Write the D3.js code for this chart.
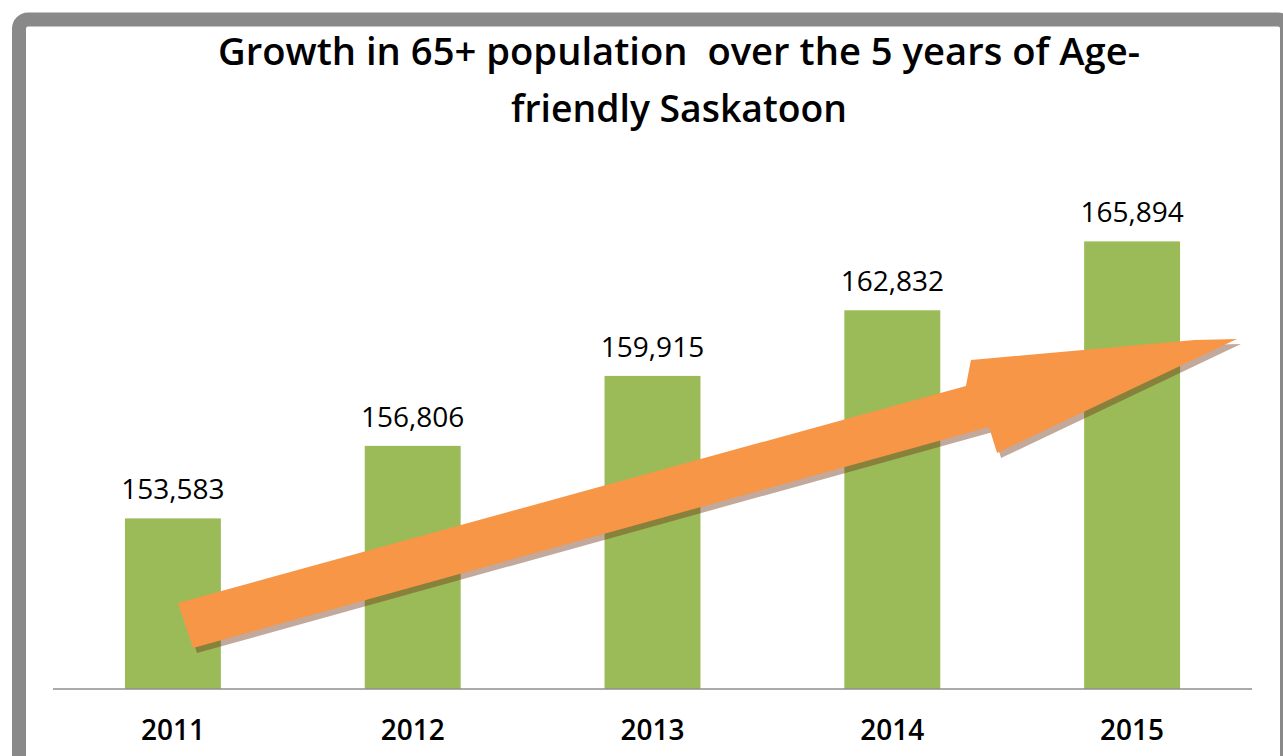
<!DOCTYPE html>
<html>
<head>
<meta charset="utf-8">
<script src="https://cdn.jsdelivr.net/npm/d3@7"></script>
<style>
html,body{margin:0;padding:0;background:#fff;overflow:hidden;}
svg{display:block;}
</style>
</head>
<body>
<svg id="chart" width="1283" height="756"></svg>
<script>
const titleLines = ["Growth in 65+ population  over the 5 years of Age-", "friendly Saskatoon"];
const categories = ["2011", "2012", "2013", "2014", "2015"];
const values = [153583, 156806, 159915, 162832, 165894];
const yDomain = [146000, 168000];
// decorative trend arrow, in (category index, value) units
const arrowIdx = [0.021, 3.307, 3.328, 4.262, 4.437, 3.437, 3.403, 0.084];
const arrowVal = [149822, 159467, 160622, 161511, 161556, 156489, 157644, 147822];

const svg = d3.select("#chart");
const W = 1283, H = 756;
const plot = {left: 53, right: 1252, top: 194, bottom: 689};

// frame
svg.append("rect")
  .attr("x", 19).attr("y", 19.5)
  .attr("width", 1268).attr("height", 800)
  .attr("rx", 9).attr("ry", 9)
  .attr("fill", "#fff")
  .attr("stroke", "#898989")
  .attr("stroke-width", 14);

// title
const title = svg.append("g");
titleLines.forEach((t, i) => {
  title.append("text")
    .attr("x", 679).attr("y", 65 + i * 57)
    .attr("text-anchor", "middle")
    .attr("font-family", "'Open Sans', sans-serif")
    .attr("font-weight", 600)
    .attr("font-size", 37)
    .attr("fill", "#000")
    .attr("textLength", i === 0 ? 922 : 336)
    .attr("lengthAdjust", "spacingAndGlyphs")
    .attr("xml:space", "preserve")
    .text(t);
});

const x = d3.scaleBand().domain(categories)
  .range([plot.left, plot.right])
  .paddingInner(0.6).paddingOuter(0.3);
const xPos = d3.scaleLinear().domain([-0.5, categories.length - 0.5]).range([plot.left, plot.right]);
const y = d3.scaleLinear().domain(yDomain).range([plot.bottom, plot.top]);

// bars
svg.append("g").selectAll("rect")
  .data(values)
  .join("rect")
  .attr("x", (d, i) => x(categories[i]))
  .attr("y", d => y(d))
  .attr("width", x.bandwidth())
  .attr("height", d => plot.bottom - y(d))
  .attr("fill", "#9BBB59");

// value labels
svg.append("g").selectAll("text")
  .data(values)
  .join("text")
  .attr("x", (d, i) => x(categories[i]) + x.bandwidth() / 2)
  .attr("y", d => y(d) - 19)
  .attr("text-anchor", "middle")
  .attr("font-family", "'Open Sans', sans-serif")
  .attr("font-size", 28)
  .attr("fill", "#000")
  .text(d => d3.format(",")(d));

// x axis
const xAxis = d3.axisBottom(x).tickSize(0).tickPadding(0);
const ax = svg.append("g")
  .attr("transform", `translate(0,${plot.bottom})`)
  .call(xAxis);
ax.select(".domain").attr("stroke", "#8f8f8f").attr("stroke-width", 1.5)
  .attr("d", `M${plot.left},0H${plot.right}`);
ax.selectAll(".tick text")
  .attr("y", 51)
  .attr("dy", 0)
  .attr("font-family", "'Open Sans', sans-serif")
  .attr("font-weight", 600)
  .attr("font-size", 28)
  .attr("fill", "#000");

// arrow
const arrowPts = arrowIdx.map((v, i) => [xPos(v), y(arrowVal[i])]);
const line = d3.line().curve(d3.curveLinearClosed);
svg.append("path")
  .attr("d", line(arrowPts))
  .attr("transform", "translate(4,5)")
  .attr("fill", "rgb(110,50,20)")
  .attr("fill-opacity", 0.42);
svg.append("path")
  .attr("d", line(arrowPts))
  .attr("fill", "#F79646");
</script>
</body>
</html>
